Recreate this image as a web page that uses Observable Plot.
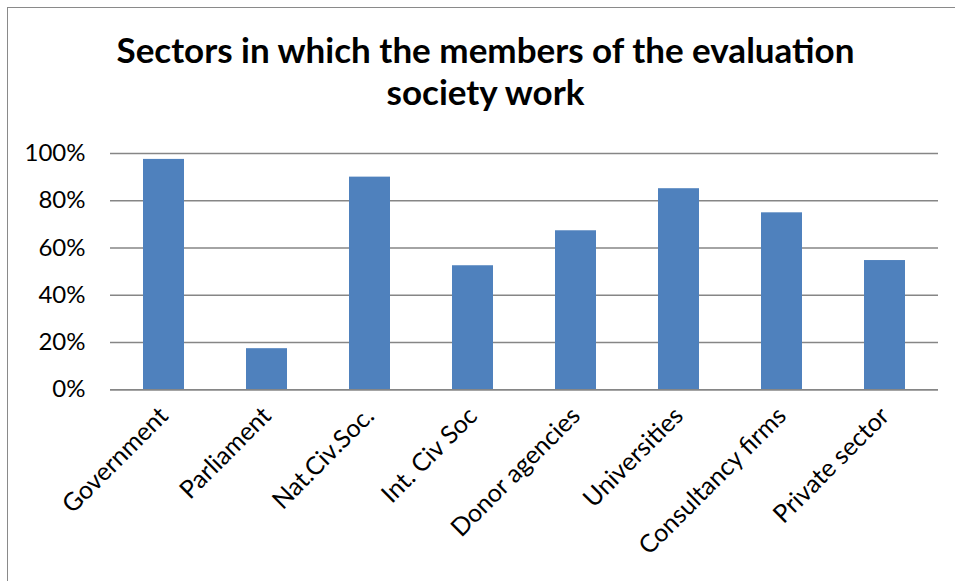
<!DOCTYPE html>
<html>
<head>
<meta charset="utf-8">
<script src="https://cdn.jsdelivr.net/npm/d3@7"></script>
<script src="https://cdn.jsdelivr.net/npm/@observablehq/plot@0.6"></script>
<style>
  html, body { margin: 0; padding: 0; background: #fff; overflow: hidden; }
  #wrap { position: relative; width: 955px; height: 581px; }
  #border { position: absolute; left: 7px; top: 7px; width: 1200px; height: 1200px; border: 1.5px solid #8a8a8a; box-sizing: border-box; pointer-events: none; }
  #title { position: absolute; left: 0; top: 0; width: 955px; height: 120px; box-sizing: border-box; padding-left: 16px; padding-top: 28px;
           text-align: center; font-family: Lato, sans-serif; font-weight: bold; font-size: 35px; line-height: 42px; color: #000; }
  #chart { position: absolute; left: 0; top: 120px; }
</style>
</head>
<body>
<div id="wrap">
  <div id="title">Sectors in which the members of the evaluation<br>society work</div>
  <div id="chart"></div>
  <div id="border"></div>
</div>
<script>
const categories = ["Government", "Parliament", "Nat.Civ.Soc.", "Int. Civ Soc", "Donor agencies", "Universities", "Consultancy firms", "Private sector"];
const shares = [0.975, 0.174, 0.90, 0.525, 0.673, 0.851, 0.749, 0.547];
const yTicks = [0, 0.2, 0.4, 0.6, 0.8, 1.0];

const data = categories.map((c, i) => ({sector: c, share: shares[i]}));

const chart = Plot.plot({
  width: 955,
  height: 461,
  marginTop: 33,
  marginBottom: 191.7,
  marginLeft: 110,
  marginRight: 17,
  style: {fontFamily: "Lato, sans-serif", fontSize: "23px", color: "#000", background: "transparent"},
  x: {domain: categories, paddingInner: 0.6, paddingOuter: 0.3, label: null},
  y: {domain: [0, 1], label: null},
  marks: [
    Plot.gridY(yTicks, {stroke: "#868686", strokeOpacity: 1, strokeWidth: 1.5}),
    Plot.barY(data, {x: "sector", y: "share", fill: "#4F81BD"}),
    Plot.ruleX([0], {x: () => null, frameAnchor: "left", stroke: "#868686", strokeWidth: 1.5}),
    Plot.ruleY([0], {stroke: "#868686", strokeWidth: 1.5}),
    Plot.axisY(yTicks, {tickSize: 0, tickPadding: 25, tickFormat: d3.format(".0%"), fill: "#000", fontSize: 24, label: null}),
    Plot.axisX({tickSize: 0, tickPadding: 22, tickRotate: -45, fill: "#000", fontSize: 25, label: null})
  ]
});
document.getElementById("chart").appendChild(chart);
</script>
</body>
</html>
